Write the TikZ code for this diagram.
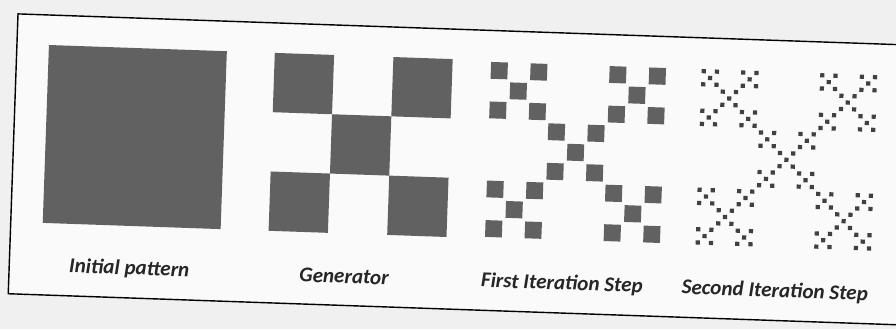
\documentclass[tikz,border=0pt]{standalone}
\usepackage{fontspec}
\setmainfont{Carlito}
\usepackage{tikz}

\begin{document}
\begin{tikzpicture}[x=0.03cm, y=-0.03cm,
    cell/.style={fill=black!62},
    dot/.style={fill=black!75},
    caption/.style={font=\fontsize{18}{21}\selectfont\bfseries\itshape, text=black!85, transform shape}]
    % Page
    \useasboundingbox (0,0) rectangle (896,329);
    \fill[black!6] (0,0) rectangle (896,329);
    \clip (0,0) rectangle (896,329);
    \begin{scope}[rotate around={-2:(448,165)}]
    % Frame
    \fill[black!2] (13,29) rectangle (950,309);
    \draw[line width=1.2pt] (950,29) -- (13,29) -- (13,309) -- (950,309);
    % Initial pattern
    \fill[cell] (45,59) rectangle ++(178,178);
    % Generator
    \foreach \i/\j in {0/0,2/0,1/1,0/2,2/2}
        \fill[cell] ({271+\i*59.33},{59+\j*59.33}) rectangle ++(59.33,59.33);
    % First iteration
    \foreach \i/\j in {0/0,2/0,1/1,0/2,2/2}
        \foreach \k/\l in {0/0,2/0,1/1,0/2,2/2}
            \fill[cell] ({486+\i*59.33+\k*19.78+1.5},{59+\j*59.33+\l*19.78+1.5}) rectangle ++(16.8,16.8);
    % Second iteration
    \foreach \i/\j in {0/0,2/0,1/1,0/2,2/2}
        \foreach \k/\l in {0/0,2/0,1/1,0/2,2/2}
            \foreach \m/\n in {0/0,2/0,1/1,0/2,2/2}
                \fill[dot] ({697+\i*59.33+\k*19.78+\m*6.59+1.2},{59+\j*59.33+\l*19.78+\n*6.59+1.2}) rectangle ++(4.2,4.2);
    % Labels
    \node[caption] (initlabel) at (133,280) {Initial pattern};
    \node[caption] (genlabel) at (348,280) {Generator};
    \node[caption] (firstlabel) at (566,280) {First Iteration Step};
    \node[caption] (secondlabel) at (779,280) {Second Iteration Step};
    \end{scope}
\end{tikzpicture}
\end{document}
